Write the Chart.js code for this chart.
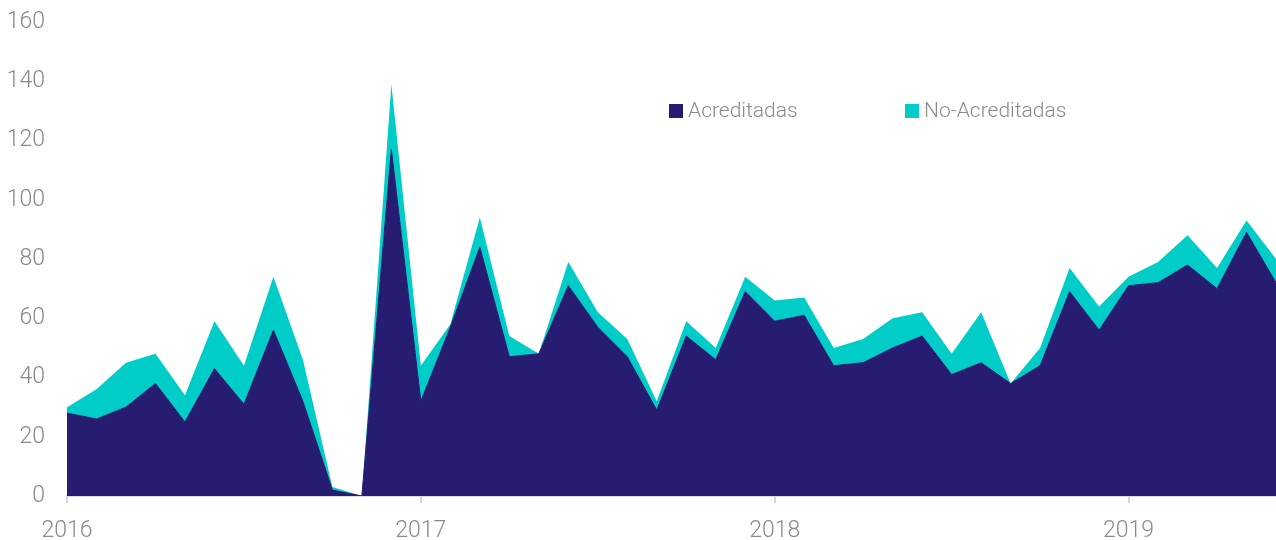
<!DOCTYPE html>
<html>
<head>
<meta charset="utf-8">
<script src="https://cdn.jsdelivr.net/npm/chart.js@4/dist/chart.umd.min.js"></script>
<style>
  html, body { margin: 0; padding: 0; background: #fff; }
  #wrap { position: relative; width: 1276px; height: 540px; }
  canvas { display: block; }
  .leg { position: absolute; top: 97px; font-family: Roboto, "Open Sans", sans-serif; font-weight: 300; font-size: 21px; color: #8a8a8a; white-space: nowrap; line-height: 26px; }
  .leg span.sw { display: inline-block; width: 14px; height: 14px; margin-right: 5px; vertical-align: -1px; }
</style>
</head>
<body>
<div id="wrap">
  <canvas id="c" width="1276" height="540"></canvas>
  <div class="leg" style="left:669px"><span class="sw" style="background:#261d72"></span>Acreditadas</div>
  <div class="leg" style="left:905px"><span class="sw" style="background:#00ccc8"></span>No-Acreditadas</div>
</div>
<script>
const categories = [
  '2016-01','2016-02','2016-03','2016-04','2016-05','2016-06','2016-07','2016-08','2016-09','2016-10','2016-11','2016-12',
  '2017-01','2017-02','2017-03','2017-04','2017-05','2017-06','2017-07','2017-08','2017-09','2017-10','2017-11','2017-12',
  '2018-01','2018-02','2018-03','2018-04','2018-05','2018-06','2018-07','2018-08','2018-09','2018-10','2018-11','2018-12',
  '2019-01','2019-02','2019-03','2019-04','2019-05','2019-06'
];
const acreditadas = [
  28, 26, 30, 38, 25, 43, 31, 56, 32, 2, 0, 117,
  32, 57, 84, 47, 48, 71, 57, 47, 29, 54, 46, 69,
  59, 61, 44, 45, 50, 54, 41, 45, 38, 44, 69, 56,
  71, 72, 78, 70, 89, 72
];
const noAcreditadas = [
  2, 10, 15, 10, 9, 16, 13, 18, 14, 1, 0, 22,
  12, 1, 10, 7, 0, 8, 5, 6, 3, 5, 4, 5,
  7, 6, 6, 8, 10, 8, 7, 17, 0, 6, 8, 8,
  3, 7, 10, 7, 4, 8
];
const yearTicks = ['2016', '2017', '2018', '2019'];
const yTicks = [0, 20, 40, 60, 80, 100, 120, 140, 160];

const NAVY = '#261d72';
const TEAL = '#00ccc8';
const TEXT = '#8a8a8a';
const FONT = { family: 'Roboto, "Open Sans", sans-serif', size: 23, weight: '300' };

new Chart(document.getElementById('c'), {
  type: 'line',
  data: {
    labels: categories,
    datasets: [
      { label: 'Acreditadas', data: acreditadas, backgroundColor: NAVY, borderColor: NAVY, borderWidth: 1, fill: 'origin', pointRadius: 0, tension: 0 },
      { label: 'No-Acreditadas', data: noAcreditadas, backgroundColor: TEAL, borderColor: TEAL, borderWidth: 0, fill: '-1', pointRadius: 0, tension: 0 }
    ]
  },
  options: {
    responsive: false,
    animation: false,
    devicePixelRatio: 1,
    layout: { padding: { top: 22, right: 0, left: 0, bottom: 0 } },
    plugins: { legend: { display: false }, tooltip: { enabled: false } },
    scales: {
      x: {
        type: 'category',
        offset: false,
        grid: { display: true, drawOnChartArea: false, drawTicks: true, tickLength: 7, color: '#d6d6d6', lineWidth: 2 },
        border: { display: true, color: '#d9d9e3', width: 2 },
        afterBuildTicks: (scale) => {
          scale.ticks = scale.ticks.filter(t => yearTicks.includes(categories[t.value].slice(0, 4)) && categories[t.value].endsWith('-01'));
        },
        ticks: {
          autoSkip: false, maxRotation: 0, color: TEXT, font: FONT, padding: 14,
          callback: (v) => categories[v].slice(0, 4)
        },
        afterFit: (scale) => { scale.height = 44; scale.paddingRight = 0; }
      },
      y: {
        stacked: true,
        min: 0, max: 160,
        afterBuildTicks: (scale) => { scale.ticks = yTicks.map(v => ({ value: v })); },
        grid: { display: false, drawTicks: false },
        border: { display: false },
        ticks: { color: TEXT, font: FONT, padding: 22 },
        afterFit: (scale) => { scale.width = 67; scale.paddingTop = 0; scale.paddingBottom = 0; }
      }
    }
  }
});
</script>
</body>
</html>
